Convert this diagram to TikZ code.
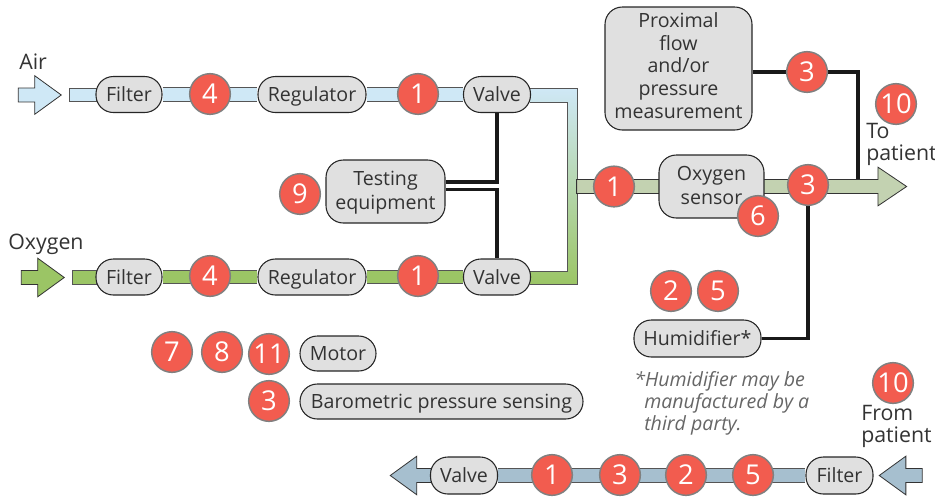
\documentclass[tikz,border=0pt]{standalone}
\usepackage{fontspec}
\setmainfont{Open Sans}
\usetikzlibrary{shapes.arrows,backgrounds}
\definecolor{airblue}{HTML}{CFE8F6}
\definecolor{oxgreen}{HTML}{9BC565}
\definecolor{mixgreen}{HTML}{C3D2B1}
\definecolor{retblue}{HTML}{A6BFCF}
\definecolor{badgered}{HTML}{F25C4F}
\definecolor{boxgrey}{HTML}{E0E0E0}
\definecolor{txt}{HTML}{333333}
\definecolor{edgegrey}{HTML}{555555}
\tikzset{
  x=.75pt,y=-.75pt,
  bx/.style 2 args={minimum width=#1*.75pt,minimum height=#2*.75pt},
  unit/.style={draw=black!85,line width=.8pt,fill=boxgrey,text=txt,inner sep=0pt,align=center,rounded corners=13pt,
     font=\fontsize{14.7}{17.3}\selectfont},
  oneline/.style={text height=12.3pt,text depth=1.5pt},
  badge/.style={circle,draw=black!50,line width=1.1pt,fill=badgered,text=white,inner sep=0pt,minimum size=30.5pt,
     font=\fontsize{20.5}{20.5}\selectfont},
  lbl/.style={text=txt,inner sep=0pt,anchor=base west,align=left,font=\fontsize{16}{16.5}\selectfont},
  note/.style={text=black!60,inner sep=0pt,anchor=north west,align=left,font=\fontsize{14.7}{16.5}\selectfont\itshape},
  pipe/.style={draw=edgegrey,line width=.6pt,double distance=9.4pt,double=#1},
  signal/.style={draw=black!90,line width=2.5pt,line cap=butt,line join=miter},
  stub/.style={draw=edgegrey,line width=.6pt,fill=#1,inner sep=0pt},
  flowarrow/.style={single arrow,draw=black!80,line width=.6pt,fill=#1,inner sep=4.9pt,
     single arrow head extend=9.3pt,single arrow tip angle=72,anchor=center},
}
\begin{document}
\begin{tikzpicture}
\useasboundingbox (0,0) rectangle (935,497);
% top row
\node[flowarrow=airblue,minimum height=32.25pt] (airin) at (35,95) {};
\node[stub=airblue,bx={27}{13.5}] (airstub) at (82.5,95) {};
\node[unit,oneline,bx={66}{36}] (filterA) at (129,94.5) {Filter};
\node[badge] (fourA) at (210,94) {4};
\node[unit,oneline,bx={108}{36}] (regA) at (312,94.5) {Regulator};
\node[badge] (oneA) at (418,94) {1};
\node[unit,oneline,bx={67}{36}] (valveA) at (497,94.5) {Valve};
% bottom row
\node[flowarrow=oxgreen,minimum height=32.25pt] (oxin) at (38,277.5) {};
\node[stub=oxgreen,bx={24}{13.5}] (oxstub) at (84,277.5) {};
\node[unit,oneline,bx={66}{36}] (filterB) at (129,277) {Filter};
\node[badge] (fourB) at (210,276) {4};
\node[unit,oneline,bx={108}{36}] (regB) at (312,277) {Regulator};
\node[badge] (oneB) at (418,276) {1};
\node[unit,oneline,bx={67}{36}] (valveB) at (497,277) {Valve};
% testing
\node[unit,bx={119}{63},text height=26.3pt,text depth=0pt] (testing) at (385.5,191.5) {Testing\\equipment};
\node[badge] (nine) at (300,194) {9};
% proximal
\node[unit,bx={147}{123},text height=74.3pt,text depth=0pt,font=\fontsize{14.7}{16.9}\selectfont] (prox) at (678.5,68.5) {Proximal\\flow\\and/or\\pressure\\measurement};
\node[badge] (threeP) at (807,72) {3};
% main line
\node[flowarrow=mixgreen,minimum height=247.5pt,single arrow tip angle=68] (toPatient) at (736.5,186.5) {};
\node[badge] (oneM) at (614,186.5) {1};
\node[unit,bx={105}{63},text height=26.3pt,text depth=0pt] (oxsensor) at (711.5,186.5) {Oxygen\\sensor};
\node[badge] (six) at (758,216) {6};
\node[badge] (threeM) at (808,185) {3};
\coordinate (joinP) at (858,180);
\node[badge] (tenT) at (896,104) {10};
\node[lbl] (toLbl) at (866,160) {To\\patient};
% humidifier
\node[badge] (two) at (671,291) {2};
\node[badge] (five) at (718,291) {5};
\node[unit,oneline,bx={127}{37}] (humid) at (697.5,338.5) {Humidifier*};
\node[note] (noteA) at (634,371) {*Humidifier may be};
\node[note] (noteB) at (644,393) {manufactured by a};
\node[note] (noteC) at (644,415) {third party.};
% legend
\node[badge] (seven) at (172,352) {7};
\node[badge] (eight) at (222,352) {8};
\node[badge] (eleven) at (269,354) {11};
\node[unit,oneline,bx={76}{35}] (motor) at (338,353.5) {Motor};
\node[badge] (threeB) at (269,401) {3};
\node[unit,oneline,bx={283}{35}] (baro) at (441.5,401.5) {Barometric pressure sensing};
% labels
\node[lbl] (airLbl) at (19,69) {Air};
\node[lbl] (oxLbl) at (8,249) {Oxygen};
\node[badge] (tenF) at (893,383) {10};
\node[lbl] (fromLbl) at (861,442) {From\\patient};
% return row
\node[flowarrow=retblue,minimum height=30.75pt,shape border rotate=180] (retOut) at (415.5,475.5) {};
\node[unit,oneline,bx={67}{37}] (valveR) at (464,475.5) {Valve};
\node[badge] (oneR) at (552,475) {1};
\node[badge] (threeR) at (620,475) {3};
\node[badge] (twoR) at (686,475) {2};
\node[badge] (fiveR) at (753,475) {5};
\node[unit,oneline,bx={67}{37}] (filterR) at (839.5,475.5) {Filter};
\node[flowarrow=retblue,minimum height=32.25pt,shape border rotate=180] (retIn) at (905.5,475.5) {};
\begin{pgfonlayer}{background}
  \draw[pipe=airblue] (filterA.east) -- (regA.west);
  \draw[pipe=airblue] (regA.east) -- (valveA.west);
  \draw[pipe=oxgreen] (filterB.east) -- (regB.west);
  \draw[pipe=oxgreen] (regB.east) -- (valveB.west);
  \draw[pipe=retblue] (valveR.east) -- (filterR.west);
  % merging pipe with the colour gradient
  \shade[top color=airblue,bottom color=oxgreen,shading angle=0]
     (530,88.5) -- (577,88.5) -- (577,180.5) -- (578.5,180.5) -- (578.5,192.5) -- (577,192.5) -- (577,284.5)
     -- (530,284.5) -- (530,271.5) -- (567,271.5) -- (567,102) -- (530,102) -- cycle;
  \draw[draw=edgegrey,line width=.6pt] (530,88.5) -- (577,88.5) -- (577,180.5);
  \draw[draw=edgegrey,line width=.6pt] (530,102) -- (567,102) -- (567,271.5) -- (530,271.5);
  \draw[draw=edgegrey,line width=.6pt] (577,192.5) -- (577,284.5) -- (530,284.5);
  % signal lines
  \draw[signal] (prox.east |- threeP) -- (threeP);
  \draw[signal] (threeP) -| (joinP);
  \draw[signal] (threeM) -- (threeM |- humid) -- (humid.east);
  \draw[signal] (testing.east |- 0,182) -| (valveA.south);
  \draw[signal] (testing.east |- 0,189.5) -| (valveB.north);
\end{pgfonlayer}
\end{tikzpicture}
\end{document}
